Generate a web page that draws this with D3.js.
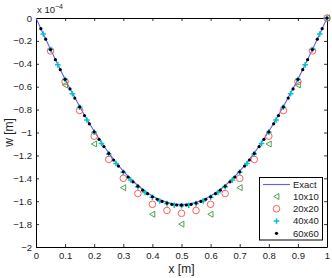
<!DOCTYPE html>
<html><head><meta charset="utf-8">
<script src="https://cdn.jsdelivr.net/npm/d3@7/dist/d3.min.js"></script>
<style>body{margin:0;background:#fff}svg{display:block}text{font-family:"Liberation Sans",Arial,sans-serif}</style>
</head><body>
<svg id="c" width="332" height="278"></svg>
<script>
// values in units of 1e-4 m (deflection w, negative downward)
const xTicks = [0,0.1,0.2,0.3,0.4,0.5,0.6,0.7,0.8,0.9,1];
const xTickLabels = ["0","0.1","0.2","0.3","0.4","0.5","0.6","0.7","0.8","0.9","1"];
const yTicks = [0,-0.2,-0.4,-0.6,-0.8,-1,-1.2,-1.4,-1.6,-1.8,-2];
const yTickLabels = ["0","\u22120.2","\u22120.4","\u22120.6","\u22120.8","\u22121","\u22121.2","\u22121.4","\u22121.6","\u22121.8","\u22122"];
const seriesNames = ["Exact","10x10","20x20","40x40","60x60"];

// Exact solution sampled at 0.025 steps
const exactW = [0,-0.139,-0.274,-0.406,-0.534,-0.656,-0.773,-0.885,-0.989,-1.087,-1.178,-1.262,-1.337,-1.404,-1.463,-1.513,-1.554,-1.586,-1.609,-1.623,-1.628,
  -1.623,-1.609,-1.586,-1.554,-1.513,-1.463,-1.404,-1.337,-1.262,-1.178,-1.087,-0.989,-0.885,-0.773,-0.656,-0.534,-0.406,-0.274,-0.139,0];
// 10x10 mesh (0.1 steps)
const w10 = [0,-0.585,-1.10,-1.482,-1.714,-1.80,-1.714,-1.482,-1.10,-0.585,0];
// 20x20 mesh (0.05 steps)
const w20 = [0,-0.287,-0.555,-0.808,-1.032,-1.235,-1.400,-1.533,-1.627,-1.681,-1.706,
  -1.681,-1.627,-1.533,-1.400,-1.235,-1.032,-0.808,-0.555,-0.287,0];
// 40x40 mesh (0.025 steps)
const w40 = [0,-0.140,-0.276,-0.409,-0.537,-0.661,-0.779,-0.891,-0.997,-1.095,-1.187,-1.271,-1.347,-1.414,-1.474,-1.524,-1.566,-1.598,-1.621,-1.635,-1.640,
  -1.635,-1.621,-1.598,-1.566,-1.524,-1.474,-1.414,-1.347,-1.271,-1.187,-1.095,-0.997,-0.891,-0.779,-0.661,-0.537,-0.409,-0.276,-0.140,0];
// 60x60 mesh (1/60 steps)
const w60 = [0,-0.093,-0.185,-0.275,-0.364,-0.451,-0.536,-0.619,-0.699,-0.777,-0.852,-0.924,-0.994,-1.060,-1.123,-1.183,-1.240,-1.293,-1.343,-1.389,-1.431,-1.469,-1.504,-1.534,-1.561,-1.583,-1.602,-1.616,-1.627,-1.633,-1.635,
  -1.633,-1.627,-1.616,-1.602,-1.583,-1.561,-1.534,-1.504,-1.469,-1.431,-1.389,-1.343,-1.293,-1.240,-1.183,-1.123,-1.060,-0.994,-0.924,-0.852,-0.777,-0.699,-0.619,-0.536,-0.451,-0.364,-0.275,-0.185,-0.093,0];

const grid = arr => arr.map((w,i)=>({x:i/(arr.length-1), w}));

const svg = d3.select("#c");
const L=36, R=327, T=18, B=247;
const x = d3.scaleLinear().domain([0,1]).range([L,R]);
const y = d3.scaleLinear().domain([-2,0]).range([B,T]);

const g = svg.append("g");
const fs = 9.5;
const axB = d3.axisBottom(x).tickValues(xTicks).tickFormat((d,i)=>xTickLabels[i]).tickSizeInner(-3).tickSizeOuter(0).tickPadding(5);
const axT = d3.axisTop(x).tickValues(xTicks).tickFormat("").tickSizeInner(-3).tickSizeOuter(0);
const axL = d3.axisLeft(y).tickValues(yTicks).tickFormat((d,i)=>yTickLabels[i]).tickSizeInner(-3).tickSizeOuter(0).tickPadding(4);
const axR = d3.axisRight(y).tickValues(yTicks).tickFormat("").tickSizeInner(-3).tickSizeOuter(0);
[[axB,`translate(0,${B})`],[axT,`translate(0,${T})`],[axL,`translate(${L},0)`],[axR,`translate(${R},0)`]].forEach(([a,t])=>{
  const s=g.append("g").attr("transform",t).call(a);
  s.selectAll("path").attr("stroke","#000").attr("stroke-width",1);
  s.selectAll("line").attr("stroke","#000").attr("stroke-width",0.8);
  s.selectAll("text").attr("font-size",fs).attr("fill","#222").style("font-family",'"Liberation Sans",Arial,sans-serif');
});

// exponent label
const ex = svg.append("text").attr("x",37).attr("y",13).attr("font-size",9.5).attr("fill","#222");
ex.append("tspan").text("x 10");
ex.append("tspan").attr("dy",-4).attr("font-size",7).text("\u22124");

// axis labels
svg.append("text").attr("x",(L+R)/2).attr("y",273).attr("text-anchor","middle").attr("font-size",12).attr("fill","#222").text("x [m]");
svg.append("text").attr("transform",`translate(13,${(T+B)/2}) rotate(-90)`).attr("text-anchor","middle").attr("font-size",12).attr("fill","#222").text("w [m]");

const colors = {exact:"#5d5dff", t:"#3a9a3a", c:"#ff4a4a", p:"#00c4cc", d:"#000"};

// exact line
const line = d3.line().x(d=>x(d.x)).y(d=>y(d.w)).curve(d3.curveMonotoneX);
svg.append("path").datum(grid(exactW)).attr("d",line).attr("fill","none").attr("stroke",colors.exact).attr("stroke-width",1.1);

const tri = (sel, s) => sel.append("path").attr("d",`M${-s*0.7},0L${s*0.6},${-s*0.75}L${s*0.6},${s*0.75}Z`).attr("fill","none").attr("stroke",colors.t).attr("stroke-width",0.9);
const circ = (sel) => sel.append("circle").attr("r",3.3).attr("fill","none").attr("stroke",colors.c).attr("stroke-width",0.9);
const plus = (sel) => sel.append("path").attr("d","M-2.8,0H2.8M0,-2.8V2.8").attr("stroke",colors.p).attr("stroke-width",1.5);
const dot = (sel) => sel.append("circle").attr("r",1.6).attr("fill",colors.d);

function marks(arr, fn){
  const s = svg.append("g").selectAll("g").data(grid(arr).filter(d=>d.x>0)).join("g")
    .attr("transform",d=>`translate(${x(d.x)},${y(d.w)})`);
  s.each(function(){fn(d3.select(this), 4);});
}
marks(w10, tri);
marks(w20, circ);
marks(w40, plus);
marks(w60, dot);

// legend
const lg = svg.append("g");
lg.append("rect").attr("x",259.5).attr("y",177.5).attr("width",63).attr("height",62.5).attr("fill","#fff").attr("stroke","#000").attr("stroke-width",1);
const ly = [184.5,196.5,208.8,221,233.3];
lg.append("line").attr("x1",263).attr("x2",290).attr("y1",ly[0]).attr("y2",ly[0]).attr("stroke",colors.exact).attr("stroke-width",1.1);
[tri,circ,plus,dot].forEach((fn,i)=>{
  const m = lg.append("g").attr("transform",`translate(276.5,${ly[i+1]})`);
  fn(m,4);
});
seriesNames.forEach((n,i)=>{
  lg.append("text").attr("x",293).attr("y",ly[i]+3.3).attr("font-size",9.5).attr("fill","#222").text(n);
});
</script>
</body></html>
